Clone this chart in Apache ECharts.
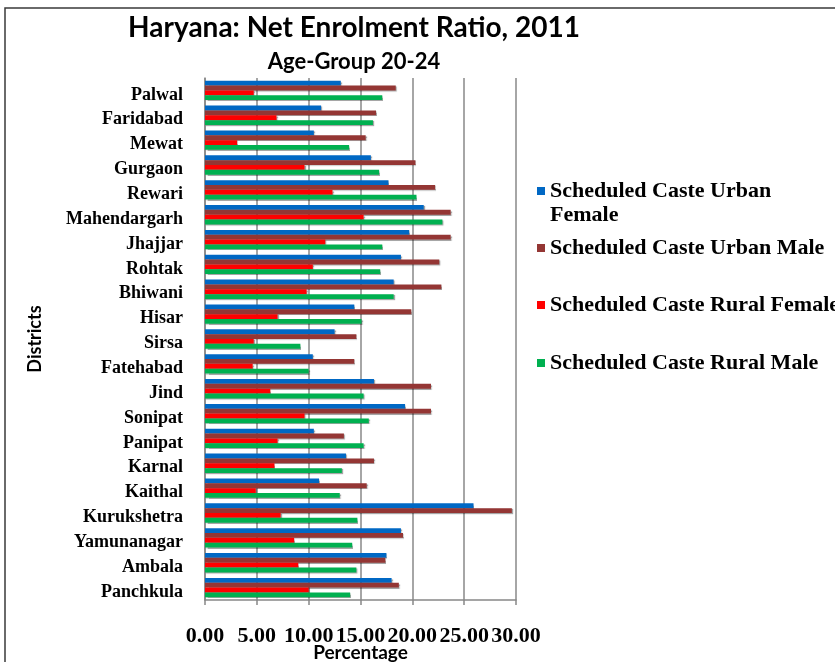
<!DOCTYPE html>
<html><head><meta charset="utf-8">
<script src="https://cdn.jsdelivr.net/npm/echarts@6/dist/echarts.min.js"></script>
<style>html,body{margin:0;padding:0;background:#fff}#c{width:835px;height:662px}</style>
</head><body><div id="c"></div>
<script>
const districts = ['Palwal','Faridabad','Mewat','Gurgaon','Rewari','Mahendargarh','Jhajjar','Rohtak','Bhiwani','Hisar','Sirsa','Fatehabad','Jind','Sonipat','Panipat','Karnal','Kaithal','Kurukshetra','Yamunanagar','Ambala','Panchkula'];
const urbanFemale = [13.1,11.2,10.5,16.0,17.7,21.1,19.7,18.9,18.2,14.4,12.5,10.4,16.3,19.3,10.5,13.6,11.0,25.9,18.9,17.5,18.0];
const urbanMale   = [18.4,16.5,15.5,20.3,22.2,23.7,23.7,22.6,22.8,19.9,14.6,14.4,21.8,21.8,13.4,16.3,15.6,29.6,19.1,17.4,18.7];
const ruralFemale = [4.7,6.9,3.1,9.6,12.3,15.3,11.6,10.4,9.8,7.0,4.7,4.6,6.3,9.6,7.0,6.7,4.9,7.3,8.6,9.0,10.0];
const ruralMale   = [17.1,16.2,13.9,16.8,20.4,22.9,17.1,16.9,18.2,15.1,9.2,10.0,15.3,15.8,15.3,13.2,13.0,14.7,14.2,14.6,14.0];
const tickLabels = ['0.00','5.00','10.00','15.00','20.00','25.00','30.00'];
const seriesNames = ['Scheduled Caste Urban Female','Scheduled Caste Urban Male','Scheduled Caste Rural Female','Scheduled Caste Rural Male'];
const seriesData = [urbanFemale, urbanMale, ruralFemale, ruralMale];
const colors = ['#0068C4','#943634','#FF0000','#00B050'];

const serif = "'Liberation Serif','Times New Roman',serif";
const sans = "Lato,'Open Sans',sans-serif";

const chart = echarts.init(document.getElementById('c'));
const legendTops = [174, 231, 288, 346];
const topSquareIcon = 'path://M0,0L8,0L8,8L0,8Z M0,32L0.001,32L0,32.001Z';
const legends = seriesNames.map((n, i) => ({
  data: [n], left: 532, top: legendTops[i], orient: 'vertical',
  itemWidth: 8, itemHeight: i === 0 ? 32 : 8, icon: i === 0 ? topSquareIcon : 'rect',
  selectedMode: false,
  formatter: i === 0 ? 'Scheduled Caste Urban\nFemale' : '{name}',
  textStyle: { fontFamily: serif, fontWeight: 'bold', fontSize: 22, color: '#000',
    lineHeight: 24 }
}));

chart.setOption({
  animation: false,
  color: colors,
  title: [
    { text: 'Haryana: Net Enrolment Ratio, 2011', left: 349, top: 9, textAlign: 'center',
      textStyle: { fontFamily: sans, fontWeight: 'bold', fontSize: 28, color: '#000' } },
    { text: 'Age-Group 20-24', left: 349, top: 46, textAlign: 'center',
      textStyle: { fontFamily: sans, fontWeight: 'bold', fontSize: 22, color: '#000' } }
  ],
  legend: legends,
  graphic: [{ type: 'rect', shape: { x: 5, y: 8, width: 900, height: 700 },
    style: { fill: 'none', stroke: '#3a3a3a', lineWidth: 1.5 }, z: -1 }],
  grid: { left: 205, width: 311, top: 78, bottom: 62, outerBoundsMode: 'none', containLabel: false },
  xAxis: {
    type: 'value', min: 0, max: 30, interval: 5,
    axisLine: { show: true, lineStyle: { color: '#888', width: 1.5 } },
    axisTick: { show: true, length: 5, lineStyle: { color: '#888', width: 1.5 } },
    axisLabel: { margin: 25, fontFamily: serif, fontWeight: 'bold', fontSize: 22, color: '#000',
      formatter: (v) => tickLabels[Math.round(v / 5)] },
    splitLine: { show: true, lineStyle: { color: '#888', width: 1.5 } },
    name: 'Percentage', nameLocation: 'middle', nameGap: 43, nameMoveOverlap: false,
    nameTextStyle: { fontFamily: sans, fontWeight: 'bold', fontSize: 19, color: '#000' }
  },
  yAxis: {
    type: 'category', data: districts, inverse: true,
    axisLine: { show: true, lineStyle: { color: '#888', width: 1.5 } },
    axisTick: { show: false },
    axisLabel: { margin: 22, fontFamily: serif, fontWeight: 'bold', fontSize: 18, color: '#000',
      verticalAlign: 'top', lineHeight: 9 },
    name: 'Districts', nameLocation: 'middle', nameGap: 161, nameRotate: 90, nameMoveOverlap: false,
    nameTextStyle: { fontFamily: sans, fontWeight: 'bold', fontSize: 18, color: '#000' }
  },
  series: seriesNames.map((n, i) => ({
    name: n, type: 'bar', data: seriesData[i],
    barGap: '0%', barCategoryGap: '22%',
    itemStyle: { color: colors[i], shadowColor: 'rgba(0,0,0,0.35)', shadowBlur: 1, shadowOffsetX: 1, shadowOffsetY: 1 }
  }))
});
</script></body></html>
